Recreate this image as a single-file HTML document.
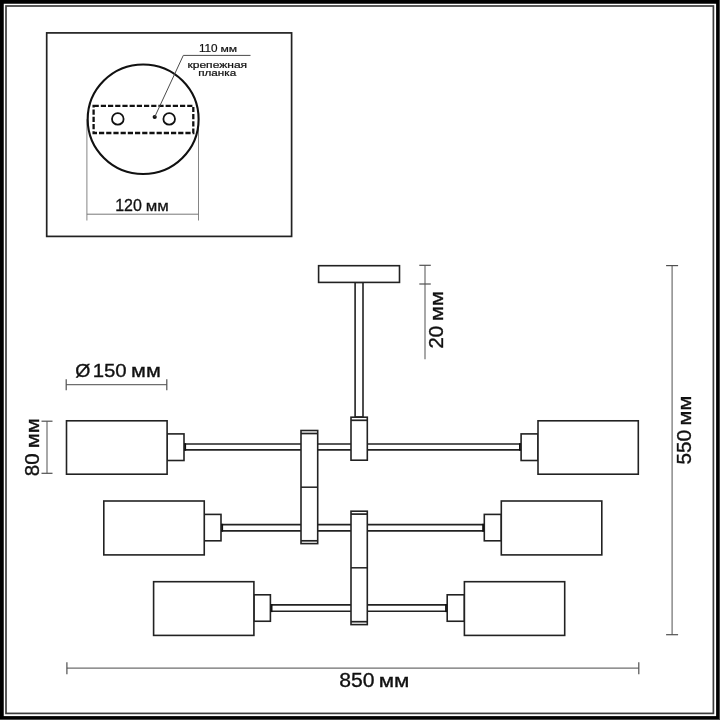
<!DOCTYPE html>
<html><head><meta charset="utf-8"><title>Lamp dimensions</title>
<style>
html,body{margin:0;padding:0;background:#fff;}
svg{display:block;font-family:"Liberation Sans",sans-serif;will-change:transform;}
</style></head>
<body>
<svg width="720" height="720" viewBox="0 0 720 720">
<rect x="0" y="0" width="720" height="720" fill="#000"/>
<rect x="719" y="0" width="1" height="720" fill="#4a4a4a"/>
<rect x="0" y="719" width="720" height="1" fill="#4a4a4a"/>
<rect x="3.75" y="3.75" width="712.35" height="712.35" fill="#fff"/>
<rect x="6.0" y="6.0" width="707.4" height="707.4" fill="none" stroke="#3c3c3c" stroke-width="1.7"/>
<rect x="46.7" y="32.9" width="244.9" height="203.5" fill="#fff" stroke="#222" stroke-width="1.7" />
<line x1="86.9" y1="119.3" x2="86.9" y2="220.5" stroke="#858585" stroke-width="1.0" />
<line x1="198.5" y1="119.3" x2="198.5" y2="220.5" stroke="#858585" stroke-width="1.0" />
<line x1="86.9" y1="214.2" x2="198.5" y2="214.2" stroke="#777" stroke-width="1.0" />
<ellipse cx="143.15" cy="119.3" rx="55.45" ry="54.75" fill="none" stroke="#111" stroke-width="2.1"/>
<rect x="93.6" y="105.8" width="99.7" height="27.2" fill="none" stroke="#111" stroke-width="2.3" stroke-dasharray="5.2 2.0"/>
<circle cx="117.8" cy="118.9" r="5.8" fill="#fff" stroke="#111" stroke-width="1.8"/>
<circle cx="169.2" cy="118.9" r="5.8" fill="#fff" stroke="#111" stroke-width="1.8"/>
<circle cx="154.7" cy="117" r="2.1" fill="#111"/>
<polyline points="154.7,117 183.3,55.4 250.5,55.4" fill="none" stroke="#4a4a4a" stroke-width="1.0"/>
<rect x="184" y="444" width="337.29999999999995" height="5.9" fill="#fff" stroke="none"/>
<line x1="184" y1="444" x2="521.3" y2="444" stroke="#222" stroke-width="1.6" />
<line x1="184" y1="449.9" x2="521.3" y2="449.9" stroke="#222" stroke-width="1.6" />
<rect x="221" y="524.6" width="263.5" height="6.3" fill="#fff" stroke="none"/>
<line x1="221" y1="524.6" x2="484.5" y2="524.6" stroke="#222" stroke-width="1.6" />
<line x1="221" y1="530.9" x2="484.5" y2="530.9" stroke="#222" stroke-width="1.6" />
<rect x="270.4" y="604.9" width="177.10000000000002" height="6.4" fill="#fff" stroke="none"/>
<line x1="270.4" y1="604.9" x2="447.5" y2="604.9" stroke="#222" stroke-width="1.6" />
<line x1="270.4" y1="611.3" x2="447.5" y2="611.3" stroke="#222" stroke-width="1.6" />
<rect x="355.1" y="282.4" width="7.9" height="134.6" fill="#fff" stroke="#222" stroke-width="1.6" />
<rect x="318.6" y="265.7" width="80.9" height="16.7" fill="#fff" stroke="#222" stroke-width="1.6" />
<rect x="351" y="417.2" width="16.3" height="43.0" fill="#fff" stroke="#222" stroke-width="1.6" />
<line x1="351" y1="420.3" x2="367.3" y2="420.3" stroke="#222" stroke-width="1.7" />
<rect x="301" y="430.5" width="16.7" height="113.1" fill="#fff" stroke="#222" stroke-width="1.6" />
<line x1="301" y1="433.5" x2="317.7" y2="433.5" stroke="#222" stroke-width="1.7" />
<line x1="301" y1="540.8" x2="317.7" y2="540.8" stroke="#222" stroke-width="1.7" />
<line x1="301" y1="487.2" x2="317.7" y2="487.2" stroke="#222" stroke-width="1.5" />
<rect x="351" y="511.2" width="16.3" height="113.4" fill="#fff" stroke="#222" stroke-width="1.6" />
<line x1="351" y1="514.1" x2="367.3" y2="514.1" stroke="#222" stroke-width="1.7" />
<line x1="351" y1="621.7" x2="367.3" y2="621.7" stroke="#222" stroke-width="1.7" />
<line x1="351" y1="567.8" x2="367.3" y2="567.8" stroke="#222" stroke-width="1.5" />
<rect x="167.1" y="433.9" width="16.9" height="26.6" fill="#fff" stroke="#222" stroke-width="1.6" />
<rect x="66.5" y="420.8" width="100.6" height="53.4" fill="#fff" stroke="#222" stroke-width="1.6" />
<rect x="184.29999999999998" y="443.2" width="1.8" height="7.499999999999977" fill="#111"/>
<rect x="204.25" y="514.4" width="16.75" height="26.4" fill="#fff" stroke="#222" stroke-width="1.6" />
<rect x="103.8" y="501.0" width="100.45" height="53.9" fill="#fff" stroke="#222" stroke-width="1.6" />
<rect x="221.29999999999998" y="523.8000000000001" width="1.8" height="7.899999999999954" fill="#111"/>
<rect x="253.9" y="594.8" width="16.5" height="26.45" fill="#fff" stroke="#222" stroke-width="1.6" />
<rect x="153.6" y="581.7" width="100.3" height="53.7" fill="#fff" stroke="#222" stroke-width="1.6" />
<rect x="270.70000000000005" y="604.1" width="1.8" height="7.999999999999977" fill="#111"/>
<rect x="521.1" y="433.9" width="16.9" height="26.6" fill="#fff" stroke="#222" stroke-width="1.6" />
<rect x="538.0" y="420.8" width="100.3" height="53.4" fill="#fff" stroke="#222" stroke-width="1.6" />
<rect x="519.0" y="443.2" width="1.8" height="7.499999999999977" fill="#111"/>
<rect x="484.3" y="514.4" width="17.0" height="26.4" fill="#fff" stroke="#222" stroke-width="1.6" />
<rect x="501.3" y="501.0" width="100.5" height="53.9" fill="#fff" stroke="#222" stroke-width="1.6" />
<rect x="482.20000000000005" y="523.8000000000001" width="1.8" height="7.899999999999954" fill="#111"/>
<rect x="447.2" y="594.8" width="17.2" height="26.45" fill="#fff" stroke="#222" stroke-width="1.6" />
<rect x="464.4" y="581.7" width="100.3" height="53.7" fill="#fff" stroke="#222" stroke-width="1.6" />
<rect x="445.1" y="604.1" width="1.8" height="7.999999999999977" fill="#111"/>
<line x1="66.2" y1="384.7" x2="166.8" y2="384.7" stroke="#6e6e6e" stroke-width="1.2" />
<line x1="66.2" y1="379.3" x2="66.2" y2="390.2" stroke="#505050" stroke-width="1.2" />
<line x1="166.8" y1="379.3" x2="166.8" y2="390.2" stroke="#505050" stroke-width="1.2" />
<line x1="47" y1="421.2" x2="47" y2="473.3" stroke="#6e6e6e" stroke-width="1.2" />
<line x1="41.5" y1="421.2" x2="52.5" y2="421.2" stroke="#505050" stroke-width="1.2" />
<line x1="41.5" y1="473.3" x2="52.5" y2="473.3" stroke="#505050" stroke-width="1.2" />
<line x1="425" y1="265.3" x2="425" y2="359.3" stroke="#6e6e6e" stroke-width="1.2" />
<line x1="419.3" y1="265.3" x2="430.8" y2="265.3" stroke="#505050" stroke-width="1.2" />
<line x1="419.3" y1="284" x2="430.8" y2="284" stroke="#505050" stroke-width="1.2" />
<line x1="672.1" y1="265.6" x2="672.1" y2="634.7" stroke="#6e6e6e" stroke-width="1.2" />
<line x1="666.1" y1="265.6" x2="678.1" y2="265.6" stroke="#505050" stroke-width="1.2" />
<line x1="666.1" y1="634.7" x2="678.1" y2="634.7" stroke="#505050" stroke-width="1.2" />
<line x1="66.9" y1="668.2" x2="638.8" y2="668.2" stroke="#6e6e6e" stroke-width="1.2" />
<line x1="66.9" y1="662.3" x2="66.9" y2="674.2" stroke="#505050" stroke-width="1.2" />
<line x1="638.8" y1="662.3" x2="638.8" y2="674.2" stroke="#505050" stroke-width="1.2" />
<text transform="translate(198.93 51.77) scale(0.1176 0.1018)" font-size="100" fill="#111" stroke="#111" stroke-width="1.82">110</text>
<text transform="translate(220.42 51.77) scale(0.1210 0.0912)" font-size="100" fill="#111" stroke="#111" stroke-width="1.88">мм</text>
<text transform="translate(187.43 67.58) scale(0.1206 0.0949)" font-size="100" fill="#111" stroke="#111" stroke-width="2.32">крепежная</text>
<text transform="translate(198.15 75.67) scale(0.1171 0.0949)" font-size="100" fill="#111" stroke="#111" stroke-width="2.36">планка</text>
<text transform="translate(115.23 211.28) scale(0.1600 0.1589)" font-size="100" fill="#111" stroke="#111" stroke-width="1.88">120</text>
<text transform="translate(145.64 211.28) scale(0.1675 0.1523)" font-size="100" fill="#111" stroke="#111" stroke-width="1.88">мм</text>
<text transform="translate(75.27 377.27) scale(0.1944 0.1823)" font-size="100" fill="#111" stroke="#111" stroke-width="1.86">Ø</text>
<text transform="translate(92.72 377.27) scale(0.2039 0.1825)" font-size="100" fill="#111" stroke="#111" stroke-width="1.81">150</text>
<text transform="translate(131.05 377.27) scale(0.2164 0.1764)" font-size="100" fill="#111" stroke="#111" stroke-width="1.78">мм</text>
<text transform="translate(38.88 476.17) rotate(-90) scale(0.2061 0.2004)" font-size="100" fill="#111" stroke="#111" stroke-width="1.72">80</text>
<text transform="translate(38.88 448.37) rotate(-90) scale(0.2196 0.1894)" font-size="100" fill="#111" stroke="#111" stroke-width="1.71">мм</text>
<text transform="translate(443.18 348.47) rotate(-90) scale(0.2032 0.2004)" font-size="100" fill="#111" stroke="#111" stroke-width="1.73">20</text>
<text transform="translate(443.18 320.95) rotate(-90) scale(0.2172 0.1894)" font-size="100" fill="#111" stroke="#111" stroke-width="1.72">мм</text>
<text transform="translate(691.12 464.58) rotate(-90) scale(0.2079 0.1954)" font-size="100" fill="#111" stroke="#111" stroke-width="1.74">550</text>
<text transform="translate(691.12 425.45) rotate(-90) scale(0.2164 0.1866)" font-size="100" fill="#111" stroke="#111" stroke-width="1.74">мм</text>
<text transform="translate(339.15 687.12) scale(0.2120 0.1968)" font-size="100" fill="#111" stroke="#111" stroke-width="1.71">850</text>
<text transform="translate(378.66 687.12) scale(0.2232 0.1847)" font-size="100" fill="#111" stroke="#111" stroke-width="1.72">мм</text>
</svg>
</body></html>
